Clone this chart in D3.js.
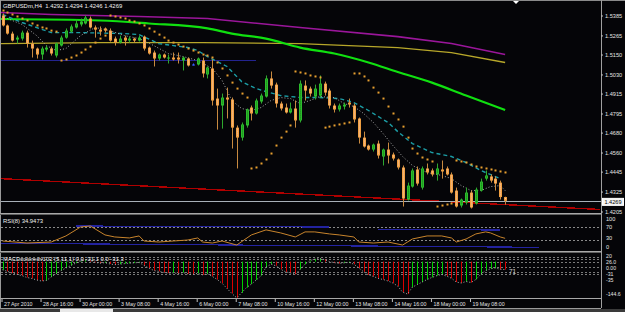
<!DOCTYPE html>
<html><head><meta charset="utf-8">
<script src="https://cdn.jsdelivr.net/npm/d3@7/dist/d3.min.js"></script>
<style>html,body{margin:0;padding:0;background:#050508;overflow:hidden}svg{display:block}</style>
</head><body><svg id="chart" width="625" height="312"></svg>
<script>
// ---------------- DATA ----------------
const chartTitle = "GBPUSDm,H4  1.4292 1.4294 1.4246 1.4269";
const rsiTitle = "RSI(8) 34.9473";
const macdTitle = "MACDcoloredv102 (5,11,1) 0.0 -31.1 0.0 -31.3";
const lastPrice = 1.4269;

// OHLC per H4 bar (bar index 0..103)
const candles = [
[1.5385,1.5397,1.5319,1.5325],[1.5325,1.5331,1.5270,1.5276],[1.5276,1.5288,1.5228,1.5234],[1.5240,1.5264,1.5216,1.5252],
[1.5246,1.5294,1.5234,1.5282],[1.5282,1.5294,1.5192,1.5216],[1.5216,1.5234,1.5132,1.5186],[1.5186,1.5192,1.5126,1.5150],
[1.5150,1.5198,1.5120,1.5186],[1.5180,1.5204,1.5168,1.5192],[1.5186,1.5198,1.5144,1.5156],[1.5144,1.5222,1.5132,1.5216],
[1.5204,1.5264,1.5198,1.5252],[1.5252,1.5307,1.5246,1.5294],[1.5288,1.5331,1.5282,1.5319],[1.5313,1.5361,1.5307,1.5337],
[1.5331,1.5367,1.5319,1.5349],[1.5337,1.5385,1.5331,1.5373],[1.5367,1.5379,1.5307,1.5313],[1.5313,1.5325,1.5252,1.5300],
[1.5300,1.5319,1.5264,1.5288],[1.5307,1.5313,1.5282,1.5294],[1.5294,1.5307,1.5228,1.5234],[1.5246,1.5258,1.5204,1.5222],
[1.5222,1.5264,1.5216,1.5246],[1.5252,1.5264,1.5204,1.5234],[1.5234,1.5258,1.5222,1.5246],[1.5246,1.5252,1.5222,1.5234],
[1.5234,1.5264,1.5228,1.5252],[1.5258,1.5264,1.5174,1.5186],[1.5192,1.5198,1.5150,1.5156],[1.5162,1.5174,1.5078,1.5126],
[1.5126,1.5156,1.5114,1.5150],[1.5150,1.5156,1.5126,1.5132],[1.5126,1.5150,1.5096,1.5132],[1.5132,1.5162,1.5114,1.5120],
[1.5132,1.5162,1.5096,1.5120],[1.5114,1.5138,1.5054,1.5132],[1.5126,1.5132,1.5078,1.5084],[1.5090,1.5096,1.5084,1.5090],
[1.5090,1.5132,1.5084,1.5126],[1.5114,1.5132,1.5012,1.5036],[1.5030,1.5078,1.5006,1.5072],[1.5066,1.5120,1.4843,1.4873],
[1.4885,1.4945,1.4698,1.4843],[1.4843,1.4915,1.4704,1.4891],[1.4891,1.4951,1.4765,1.4879],[1.4879,1.4891,1.4584,1.4710],
[1.4710,1.4723,1.4464,1.4650],[1.4650,1.4741,1.4632,1.4729],[1.4723,1.4825,1.4710,1.4819],[1.4831,1.4843,1.4753,1.4795],
[1.4795,1.4885,1.4789,1.4873],[1.4867,1.4915,1.4855,1.4903],[1.4897,1.5024,1.4891,1.5006],[1.5006,1.5048,1.4945,1.4963],
[1.4969,1.4981,1.4831,1.4855],[1.4855,1.4867,1.4813,1.4825],[1.4831,1.4855,1.4795,1.4801],[1.4801,1.4861,1.4795,1.4825],
[1.4825,1.4873,1.4710,1.4753],[1.4753,1.4994,1.4741,1.4975],[1.4963,1.4994,1.4873,1.4933],[1.4945,1.4957,1.4897,1.4915],
[1.4897,1.4969,1.4879,1.4945],[1.4903,1.5024,1.4891,1.4975],[1.4975,1.4987,1.4903,1.4921],[1.4933,1.4945,1.4825,1.4843],
[1.4843,1.4855,1.4801,1.4819],[1.4819,1.4855,1.4807,1.4843],[1.4837,1.4861,1.4819,1.4849],[1.4861,1.4885,1.4831,1.4849],
[1.4843,1.4855,1.4741,1.4759],[1.4765,1.4771,1.4614,1.4650],[1.4650,1.4686,1.4590,1.4596],[1.4602,1.4608,1.4572,1.4578],
[1.4578,1.4614,1.4566,1.4608],[1.4614,1.4632,1.4524,1.4542],[1.4536,1.4584,1.4482,1.4578],[1.4578,1.4620,1.4494,1.4542],
[1.4548,1.4560,1.4512,1.4524],[1.4518,1.4524,1.4458,1.4470],[1.4470,1.4482,1.4235,1.4283],[1.4277,1.4379,1.4271,1.4361],
[1.4355,1.4464,1.4349,1.4452],[1.4458,1.4476,1.4361,1.4373],[1.4349,1.4476,1.4337,1.4464],[1.4464,1.4494,1.4428,1.4440],
[1.4452,1.4464,1.4416,1.4428],[1.4428,1.4494,1.4391,1.4464],[1.4458,1.4512,1.4403,1.4446],[1.4464,1.4476,1.4422,1.4428],
[1.4428,1.4440,1.4313,1.4319],[1.4331,1.4349,1.4229,1.4235],[1.4241,1.4283,1.4229,1.4277],[1.4259,1.4349,1.4247,1.4319],
[1.4319,1.4331,1.4223,1.4229],[1.4253,1.4349,1.4247,1.4337],[1.4331,1.4403,1.4325,1.4385],[1.4403,1.4452,1.4391,1.4422],
[1.4416,1.4428,1.4379,1.4391],[1.4403,1.4416,1.4331,1.4373],[1.4379,1.4391,1.4277,1.4292],[1.4292,1.4294,1.4246,1.4269]
];

// Parabolic SAR per bar
const sarValues = [
1.5415,1.5403,1.5391,1.5379,1.5367,1.5355,1.5337,1.5325,1.5313,1.5307,
1.5294,1.5288,1.5114,1.5120,1.5132,1.5144,1.5162,1.5180,1.5198,1.5222,
1.5246,1.5264,1.5385,1.5379,1.5373,1.5367,1.5355,1.5349,1.5337,1.5325,
1.5307,1.5288,1.5270,1.5252,1.5234,1.5222,1.5210,1.5198,1.5186,1.5174,
1.5162,1.5150,1.5144,1.5132,1.5102,1.5066,1.5024,1.4981,1.4945,1.4915,
1.4891,1.4464,1.4470,1.4494,1.4518,1.4554,1.4602,1.4650,1.4686,1.4723,
1.5048,1.5042,1.5036,1.5024,1.5018,1.5012,1.4710,1.4716,1.4723,1.4729,
1.4735,1.4741,1.5036,1.5036,1.5018,1.4994,1.4951,1.4921,1.4885,1.4837,
1.4795,1.4759,1.4716,1.4650,1.4584,1.4554,1.4530,1.4518,1.4506,1.4235,
1.4241,1.4247,1.4253,1.4512,1.4506,1.4500,1.4488,1.4476,1.4470,1.4464,
1.4458,1.4452,1.4446,1.4440];

// Moving averages [bar, price]
const maMagenta = [[-0.5,1.5403],[10,1.5391],[28,1.5379],[42,1.5367],[61,1.5313],[81,1.5258],[92,1.5216],[103,1.5150]];
const maYellow  = [[-0.5,1.5216],[20,1.5222],[41,1.5222],[61,1.5216],[81,1.5192],[92,1.5162],[103,1.5102]];
const maGreen   = [[-0.5,1.5364],[20,1.5355],[30,1.5337],[42,1.5307],[47,1.5276],[54,1.5246],[61,1.5192],[68,1.5156],[75,1.5102],[81,1.5045],[88,1.4981],[95,1.4903],[103,1.4816]];
const maCyan    = [[0,1.5391],[4,1.5343],[10,1.5282],[16,1.5282],[25,1.5276],[28,1.5270],[32,1.5216],[38,1.5192],[40,1.5174],[42,1.5138],[46,1.5078],[49,1.4987],[52,1.4945],[54,1.4927],[57,1.4903],[61,1.4891],[65,1.4891],[69,1.4885],[72,1.4861],[75,1.4813],[79,1.4741],[81,1.4686],[84,1.4614],[88,1.4560],[92,1.4536],[95,1.4500],[98,1.4452],[102,1.4403]];
const maGray    = [[1,1.5367],[4,1.5331],[7,1.5264],[9,1.5204],[11,1.5174],[13,1.5186],[16,1.5264],[19,1.5313],[22,1.5294],[25,1.5264],[28,1.5246],[31,1.5204],[34,1.5156],[37,1.5138],[40,1.5114],[43,1.5066],[45,1.4994],[47,1.4873],[49,1.4825],[51,1.4813],[53,1.4831],[55,1.4873],[57,1.4891],[59,1.4885],[61,1.4855],[63,1.4873],[65,1.4897],[68,1.4891],[70,1.4855],[72,1.4837],[74,1.4795],[76,1.4741],[78,1.4674],[80,1.4602],[82,1.4536],[84,1.4482],[87,1.4440],[90,1.4422],[92,1.4403],[94,1.4361],[96,1.4331],[98,1.4331],[100,1.4355],[102,1.4361],[103,1.4331]];
const redLine   = [[-0.5,1.4403],[122.5,1.4217]];
const blueLevel = [[-0.5,1.5117],[52,1.5117]];

const priceTicks = [1.5385,1.5265,1.5150,1.5030,1.4915,1.4795,1.4680,1.4560,1.4445,1.4325,1.4205];
const timeLabels = ["27 Apr 2010","28 Apr 16:00","30 Apr 00:00","3 May 08:00","4 May 16:00","6 May 00:00","7 May 08:00","10 May 16:00","12 May 00:00","13 May 08:00","14 May 16:00","18 May 00:00","19 May 08:00"];
const timeLabelBars = [0,8,16,24,32,40,48,56,64,72,80,88,96];

// RSI(8) [bar, value]
const rsiPoints = [[0,27],[5,21],[10,24],[13,42],[16,68.5],[18,71.5],[21,45],[23,39],[26,36],[28,42],[29,27],[32,24],[35,27],[38,30],[40,36],[41,24],[43,21],[45,27],[48,15],[51,45],[54,60],[57,51],[60,39],[62,54],[64,54],[67,48],[69,45],[72,39],[73,24],[76,21],[79,24],[82,15],[84,33],[87,42],[90,42],[92,36],[93,24],[95,33],[97,48],[99,54],[100,51],[102,39],[103,34.9473]];
const rsiLevels = [70,30];
const rsiTrendUpper1 = [[15,71.5],[67,68.5]];
const rsiTrendUpper2 = [[77,61.7],[102,59.6]];
const rsiTrendLower  = [[-0.5,20.2],[110,8.3]];
const rsiAxisLabels = [["100",100],["70",70],["30",30],["0",0]];

// MACD histogram per bar
const macdValues = [
-32,-38,-45,-50,-55,-62,-66,-72,-76,-74,
-60,-48,-35,-25,-15,-6,2,6,4,-3,
-6,-4,-9,-12,-10,-8,-6,-5,-3,-15,
-25,-35,-38,-42,-45,-44,-47,-43,-48,-50,
-46,-52,-48,-58,-70,-85,-105,-125,-142,-122,
-102,-88,-72,-55,-22,-10,-16,-30,-40,-44,
-50,-30,-10,4,10,12,8,0,-4,-7,
-5,-3,-10,-25,-40,-52,-58,-66,-70,-76,
-84,-96,-120,-127,-100,-90,-80,-70,-62,-55,
-50,-57,-65,-80,-84,-78,-82,-70,-50,-35,
-28,-25,-30,-31.3];
const macdLevels = [20,10,0,-20,-40,-50];
const macdRange = [26.0,-144.6];
const macdAxisLabels = ["20","26.0","0.00","-31","-35","-144.6"];

// ---------------- DRAW ----------------
const FONT = "'Liberation Sans', Arial, sans-serif";
const TXT = "#e4e4e4";
const AX = 601;
const svg = d3.select("#chart");
svg.append("rect").attr("width",625).attr("height",312).attr("fill","#050508");

const x = d3.scaleLinear().domain([0,103]).range([2.5,505.14]);
const yP = d3.scaleLinear().domain([1.5385,1.4205]).range([15.5,211.5]);
const yR = d3.scaleLinear().domain([100,0]).range([216.4,250.1]);
const yM = d3.scaleLinear().domain(macdRange).range([255,298.5]);

const defs = svg.append("defs");
[["cMain",1,2,600,211.5],["cRsi",1,215,600,36],["cMacd",1,253,600,45.5]].forEach(([id,cx,cy,w,h])=>{
  defs.append("clipPath").attr("id",id).append("rect").attr("x",cx).attr("y",cy).attr("width",w).attr("height",h);
});

// ---- main panel
const main = svg.append("g").attr("clip-path","url(#cMain)");
const lineP = d3.line().x(d=>x(d[0])).y(d=>yP(d[1]));

main.append("path").datum(redLine).attr("d",lineP).attr("fill","none").attr("stroke","#b00000").attr("stroke-width",1.4).attr("shape-rendering","crispEdges");
main.append("path").datum(blueLevel).attr("d",lineP).attr("fill","none").attr("stroke","#23238f").attr("stroke-width",1).attr("shape-rendering","crispEdges");
main.append("line").attr("x1",1).attr("x2",AX).attr("y1",Math.round(yP(lastPrice))+0.5).attr("y2",Math.round(yP(lastPrice))+0.5).attr("stroke","#a8b0b8").attr("stroke-width",1);

main.append("path").datum(maMagenta).attr("d",lineP).attr("fill","none").attr("stroke","#9a169a").attr("stroke-width",1.6);
main.append("path").datum(maYellow).attr("d",lineP).attr("fill","none").attr("stroke","#b7a72a").attr("stroke-width",1.3);
main.append("path").datum(maGreen).attr("d",d3.line().x(d=>x(d[0])).y(d=>yP(d[1])).curve(d3.curveMonotoneX)).attr("fill","none").attr("stroke","#10e010").attr("stroke-width",2.2);
main.append("path").datum(maCyan).attr("d",lineP).attr("fill","none").attr("stroke","#1c9ea6").attr("stroke-width",1.4).attr("stroke-dasharray","4,3");
main.append("path").datum(maGray).attr("d",lineP).attr("fill","none").attr("stroke","#a8a8a8").attr("stroke-width",1).attr("stroke-dasharray","1,2");

// candles
const bars = candles.map((c,i)=>({i, o:c[0], h:c[1], l:c[2], c:c[3]}));
const kind = d => d.c>d.o ? "bull" : (d.c<d.o ? "bear" : "doji");
const bodyCol = {bull:"#2cbd2c", bear:"#f0a042", doji:"#3a5cff"};
const wickCol = {bull:"#2ea82e", bear:"#c88a40", doji:"#3a5cff"};
const innerCol = {bull:"#177a17", bear:"#f6c4aa", doji:"#3a5cff"};
const cx = d => Math.round(x(d.i));
const cg = main.append("g").selectAll("g").data(bars).join("g");
cg.append("line")
  .attr("x1",d=>cx(d)+0.5).attr("x2",d=>cx(d)+0.5)
  .attr("y1",d=>yP(d.h)).attr("y2",d=>yP(d.l))
  .attr("stroke",d=>wickCol[kind(d)]).attr("stroke-width",1);
cg.append("rect")
  .attr("x",d=>cx(d)-1).attr("width",3)
  .attr("y",d=>yP(Math.max(d.o,d.c)))
  .attr("height",d=>Math.max(1,yP(Math.min(d.o,d.c))-yP(Math.max(d.o,d.c))))
  .attr("fill",d=>bodyCol[kind(d)]);
cg.filter(d=>Math.abs(yP(d.o)-yP(d.c))>3).append("line")
  .attr("x1",d=>cx(d)+0.5).attr("x2",d=>cx(d)+0.5)
  .attr("y1",d=>yP(Math.max(d.o,d.c))+1).attr("y2",d=>yP(Math.min(d.o,d.c))-1)
  .attr("stroke",d=>innerCol[kind(d)]).attr("stroke-dasharray","1,1");

// SAR dots
main.append("g").selectAll("rect").data(sarValues).join("rect")
  .attr("x",(d,i)=>Math.round(x(i))-0.5).attr("y",d=>yP(d)-1).attr("width",2).attr("height",2).attr("fill","#e8a030");

// ---- RSI panel
const rsi = svg.append("g").attr("clip-path","url(#cRsi)");
const lineR = d3.line().x(d=>x(d[0])).y(d=>yR(d[1]));
rsi.selectAll("line.lvl").data(rsiLevels).join("line").attr("class","lvl")
  .attr("x1",1).attr("x2",AX).attr("y1",d=>Math.round(yR(d))+0.5).attr("y2",d=>Math.round(yR(d))+0.5)
  .attr("stroke","#8a8a8a").attr("stroke-dasharray","2,2");
[rsiTrendUpper1,rsiTrendUpper2,rsiTrendLower].forEach(t=>{
  rsi.append("path").datum(t).attr("d",lineR).attr("fill","none").attr("stroke","#2323a0").attr("stroke-width",1.2).attr("shape-rendering","crispEdges");
});
rsi.append("path").datum(rsiPoints).attr("d",lineR).attr("fill","none").attr("stroke","#c8842c").attr("stroke-width",1);

// ---- MACD panel
const macd = svg.append("g").attr("clip-path","url(#cMacd)");
macd.selectAll("line.lvl").data(macdLevels).join("line").attr("class","lvl")
  .attr("x1",1).attr("x2",AX).attr("y1",d=>Math.round(yM(d))+0.5).attr("y2",d=>Math.round(yM(d))+0.5)
  .attr("stroke","#7a7a7a").attr("stroke-dasharray","2,2");
macd.selectAll("line.bar").data(macdValues).join("line").attr("class","bar")
  .attr("x1",(d,i)=>Math.round(x(i))+0.5).attr("x2",(d,i)=>Math.round(x(i))+0.5)
  .attr("y1",yM(0)).attr("y2",d=>yM(d))
  .attr("stroke",(d,i)=> (i>0 && d<macdValues[i-1]) ? "#d80000" : "#00d000").attr("stroke-width",1);
macd.append("path").datum(macdValues).attr("d",d3.line().x((d,i)=>x(i)).y(d=>yM(d)))
  .attr("fill","none").attr("stroke","#b0b0b0").attr("stroke-width",1).attr("stroke-dasharray","1,2");
svg.append("text").attr("x",509).attr("y",274).attr("font-family",FONT).attr("font-size",6.5).attr("fill","#d0d0d0").text("71");

// ---- frame & separators
const frame = svg.append("g");
frame.append("line").attr("x1",0).attr("x2",625).attr("y1",0.5).attr("y2",0.5).attr("stroke","#8a8a8a");
frame.append("line").attr("x1",0.5).attr("x2",0.5).attr("y1",0).attr("y2",308).attr("stroke","#9a9a9a");
frame.append("line").attr("x1",AX+0.5).attr("x2",AX+0.5).attr("y1",0).attr("y2",308).attr("stroke","#a0a0a0");
[[213.5,"#a8a8a8"],[214.5,"#606060"],[251.5,"#a8a8a8"],[252.5,"#606060"],[298.5,"#a8a8a8"],[308.5,"#9a9a9a"]].forEach(([yy,c])=>{
  frame.append("line").attr("x1",0).attr("x2",AX).attr("y1",yy).attr("y2",yy).attr("stroke",c);
});
frame.append("rect").attr("x",0).attr("y",309).attr("width",625).attr("height",3).attr("fill","#3a3a3a");
frame.append("rect").attr("x",60).attr("y",309).attr("width",53).attr("height",3).attr("fill","#e8e8e8");
frame.append("path").attr("d","M513,1 L519,1 L516,4 Z").attr("fill","#ffffff");

// ---- price axis
const pAxis = svg.append("g").attr("transform",`translate(${AX},0)`)
  .call(d3.axisRight(yP).tickValues(priceTicks).tickSize(2).tickPadding(2).tickFormat(d3.format(".4f")));
pAxis.select(".domain").remove();
pAxis.selectAll("line").attr("stroke","#c0c0c0");
pAxis.selectAll("text").attr("font-family",FONT).attr("font-size",5.6).attr("fill",TXT);

// last price box
const ly = yP(lastPrice);
svg.append("rect").attr("x",602.5).attr("y",ly-2.5).attr("width",21).attr("height",7).attr("fill","#f4f4f4").attr("stroke","#ffffff");
svg.append("text").attr("x",613).attr("y",ly+3).attr("text-anchor","middle").attr("font-family",FONT).attr("font-size",5.6).attr("fill","#000").text(d3.format(".4f")(lastPrice));

// RSI axis labels
svg.append("g").selectAll("text").data(rsiAxisLabels).join("text")
  .attr("x",606).attr("y",(d,i)=> yR(d[1]) + [4.5,2,0.5,-1][i])
  .attr("font-family",FONT).attr("font-size",5.6).attr("fill",TXT).text(d=>d[0]);
// MACD axis labels, stacked so they do not overlap
const macdLabelY = [257.5, 263.6, 269.7, 275.8, 281.9, 296.3];
svg.append("g").selectAll("text").data(macdAxisLabels).join("text")
  .attr("x",606).attr("y",(d,i)=>macdLabelY[i])
  .attr("font-family",FONT).attr("font-size",5.2).attr("fill",TXT).text(d=>d);

// time axis
const tAxis = svg.append("g").attr("transform","translate(0,299)")
  .call(d3.axisBottom(x).tickValues(timeLabelBars).tickSize(3).tickPadding(1).tickFormat((d,i)=>timeLabels[i]));
tAxis.select(".domain").remove();
tAxis.selectAll("line").attr("stroke","#c0c0c0").attr("transform","translate(-1,0)");
tAxis.selectAll("text").attr("text-anchor","start").attr("dx","1").attr("font-family",FONT).attr("font-size",5.3).attr("fill",TXT).attr("y",3.5);

// titles
svg.append("text").attr("x",3).attr("y",7.6).attr("font-family",FONT).attr("font-size",5.9).attr("fill","#f0f0f0").style("white-space","pre").text(chartTitle);
svg.append("text").attr("x",3).attr("y",223).attr("font-family",FONT).attr("font-size",5.9).attr("fill","#f0f0f0").text(rsiTitle);
svg.append("text").attr("x",3).attr("y",261).attr("font-family",FONT).attr("font-size",5.9).attr("fill","#f0f0f0").text(macdTitle);
</script></body></html>
